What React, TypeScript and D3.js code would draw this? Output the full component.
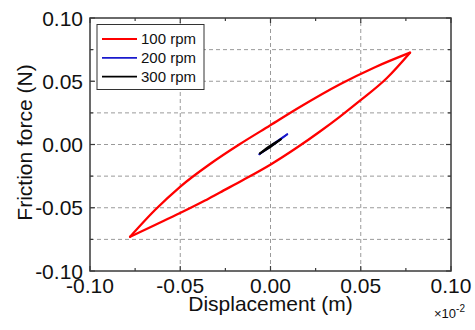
import React from "react";
import * as d3 from "d3";

const xTicks = [-0.1, -0.05, 0, 0.05, 0.1];
const yTicks = [-0.1, -0.05, 0, 0.05, 0.1];
const xMinor = [-0.075, -0.025, 0.025, 0.075];
const yMinor = [-0.075, -0.025, 0.025, 0.075];
const yGrid = [-0.075, -0.05, -0.025, 0, 0.025, 0.05, 0.075];
const xGrid = [-0.05, 0, 0.05];

const seriesNames = ["100 rpm", "200 rpm", "300 rpm"];
const seriesColors = ["#ff0000", "#1a1acd", "#000000"];

// 100 rpm loop (x in ×10^-2 m, y in N)
const rpm100UpperX = [-0.0778, -0.064, -0.0501, -0.0335, -0.0169, -0.0003, 0.0163, 0.0385, 0.0579, 0.0773];
const rpm100UpperY = [-0.0729, -0.0518, -0.0334, -0.0154, 0.0004, 0.015, 0.0296, 0.0476, 0.0611, 0.0726];
const rpm100LowerX = [-0.0778, -0.064, -0.0501, -0.0363, -0.028, -0.0152, 0.0001, 0.0147, 0.0274, 0.0385, 0.0501, 0.0645, 0.0773];
const rpm100LowerY = [-0.0729, -0.0636, -0.0542, -0.0443, -0.0379, -0.0281, -0.0158, -0.0024, 0.0103, 0.0221, 0.0352, 0.0526, 0.0726];

// 200 rpm loop
const rpm200UpperX = [-0.0062, 0.0015, 0.0093];
const rpm200UpperY = [-0.0077, 0.0005, 0.0081];
const rpm200LowerX = [-0.0062, 0.0015, 0.0093];
const rpm200LowerY = [-0.0077, -0.0002, 0.0081];

// 300 rpm loop
const rpm300UpperX = [-0.0058, 0.0, 0.0057];
const rpm300UpperY = [-0.007, -0.0009, 0.0041];
const rpm300LowerX = [-0.0058, 0.0, 0.0057];
const rpm300LowerY = [-0.007, -0.0019, 0.0041];

const FONT = "'Liberation Sans', Arial, sans-serif";

export default function App() {
  const W = 475;
  const H = 330;
  const x = d3.scaleLinear().domain([-0.1, 0.1]).range([90, 451]);
  const y = d3.scaleLinear().domain([-0.1, 0.1]).range([271, 18]);
  const line = d3
    .line<[number, number]>()
    .x((d) => x(d[0]))
    .y((d) => y(d[1]))
    .curve(d3.curveMonotoneX);
  const zip = (a: number[], b: number[]) => a.map((v, i) => [v, b[i]] as [number, number]);

  const loops = [
    [zip(rpm100UpperX, rpm100UpperY), zip(rpm100LowerX, rpm100LowerY)],
    [zip(rpm200UpperX, rpm200UpperY), zip(rpm200LowerX, rpm200LowerY)],
    [zip(rpm300UpperX, rpm300UpperY), zip(rpm300LowerX, rpm300LowerY)],
  ];
  const widths = [2.3, 1.8, 2];

  const [x0, x1] = x.range();
  const [y0, y1] = y.range(); // y0 bottom, y1 top
  const axisColor = "#3a3a3a";
  const major = 5;
  const minor = 3;

  return (
    <svg width={W} height={H} style={{ position: "absolute", left: 0, top: 0, background: "#fff" }}>
      <rect x={0} y={0} width={W} height={H} fill="#fff" />
      {/* grid */}
      {yGrid.map((v) => (
        <line key={"gy" + v} x1={x0} x2={x1} y1={y(v)} y2={y(v)} stroke="#9a9a9a" strokeWidth={1} strokeDasharray="4,3" />
      ))}
      {xGrid.map((v) => (
        <line key={"gx" + v} x1={x(v)} x2={x(v)} y1={y0} y2={y1} stroke="#9a9a9a" strokeWidth={1} strokeDasharray="4,3" />
      ))}
      {/* data */}
      {loops.map((loop, i) => (
        <g key={"s" + i}>
          {loop.map((pts, j) => (
            <path
              key={j}
              d={line(pts) || ""}
              fill="none"
              stroke={seriesColors[i]}
              strokeWidth={widths[i]}
              strokeLinejoin="round"
              strokeLinecap="round"
            />
          ))}
        </g>
      ))}
      {/* ticks */}
      {xTicks.map((v) => (
        <g key={"tx" + v}>
          <line x1={x(v)} x2={x(v)} y1={y0} y2={y0 - major} stroke={axisColor} strokeWidth={1.2} />
          <line x1={x(v)} x2={x(v)} y1={y1} y2={y1 + major} stroke={axisColor} strokeWidth={1.2} />
        </g>
      ))}
      {xMinor.map((v) => (
        <g key={"mx" + v}>
          <line x1={x(v)} x2={x(v)} y1={y0} y2={y0 - minor} stroke={axisColor} strokeWidth={1.2} />
          <line x1={x(v)} x2={x(v)} y1={y1} y2={y1 + minor} stroke={axisColor} strokeWidth={1.2} />
        </g>
      ))}
      {yTicks.map((v) => (
        <g key={"ty" + v}>
          <line x1={x0} x2={x0 + major} y1={y(v)} y2={y(v)} stroke={axisColor} strokeWidth={1.2} />
          <line x1={x1} x2={x1 - major} y1={y(v)} y2={y(v)} stroke={axisColor} strokeWidth={1.2} />
        </g>
      ))}
      {yMinor.map((v) => (
        <g key={"my" + v}>
          <line x1={x0} x2={x0 + minor} y1={y(v)} y2={y(v)} stroke={axisColor} strokeWidth={1.2} />
          <line x1={x1} x2={x1 - minor} y1={y(v)} y2={y(v)} stroke={axisColor} strokeWidth={1.2} />
        </g>
      ))}
      {/* frame */}
      <rect x={x0} y={y1} width={x1 - x0} height={y0 - y1} fill="none" stroke={axisColor} strokeWidth={1.5} />
      {/* tick labels */}
      {xTicks.map((v) => (
        <text key={"lx" + v} x={x(v)} y={293} textAnchor="middle" fontFamily={FONT} fontSize={21} fill="#111">
          {v.toFixed(2)}
        </text>
      ))}
      {yTicks.map((v) => (
        <text key={"ly" + v} x={83} y={y(v)} dy="0.36em" textAnchor="end" fontFamily={FONT} fontSize={21} fill="#111">
          {v.toFixed(2)}
        </text>
      ))}
      {/* axis titles */}
      <text x={270.5} y={311} textAnchor="middle" fontFamily={FONT} fontSize={21} fill="#111">
        Displacement (m)
      </text>
      <text transform="translate(32,142.5) rotate(-90)" textAnchor="middle" fontFamily={FONT} fontSize={21} fill="#111">
        Friction force (N)
      </text>
      <text x={434} y={318} fontFamily={FONT} fontSize={13} fill="#111">
        ×10
        <tspan dy={-6} fontSize={10}>-2</tspan>
      </text>
      {/* legend */}
      <rect x={97} y={24.5} width={107} height={65} fill="#fff" stroke="#333" strokeWidth={1} />
      {seriesNames.map((n, i) => {
        const ly = 39 + i * 18.8;
        return (
          <g key={"lg" + i}>
            <line x1={102} x2={137} y1={ly} y2={ly} stroke={seriesColors[i]} strokeWidth={1.8} />
            <text x={141} y={ly} dy="0.36em" fontFamily={FONT} fontSize={15} fill="#111">
              {n}
            </text>
          </g>
        );
      })}
    </svg>
  );
}
